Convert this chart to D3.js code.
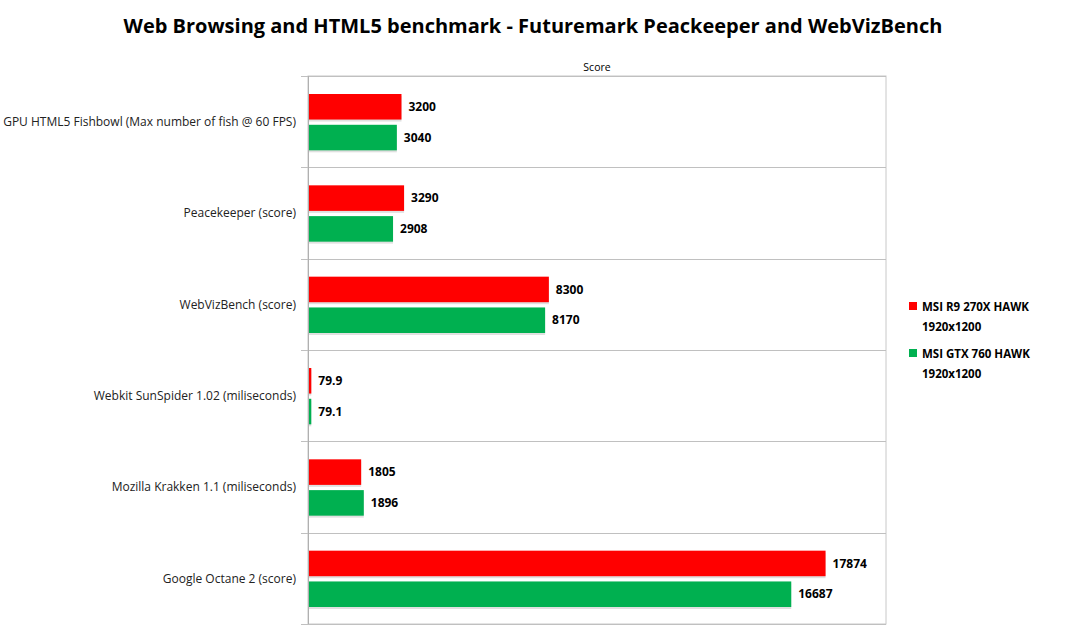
<!DOCTYPE html>
<html>
<head>
<meta charset="utf-8">
<script src="https://cdn.jsdelivr.net/npm/d3@7"></script>
<style>
  body { margin: 0; background: #fff; }
  svg { display: block; }
</style>
</head>
<body>
<div id="chart"></div>
<script>
const categories = [
    'GPU HTML5 Fishbowl (Max number of fish @ 60 FPS)',
    'Peacekeeper (score)',
    'WebVizBench (score)',
    'Webkit SunSpider 1.02 (miliseconds)',
    'Mozilla Krakken 1.1 (miliseconds)',
    'Google Octane 2 (score)'
];
const seriesNames = ['MSI R9 270X HAWK', 'MSI GTX 760 HAWK'];
const seriesSub = ['1920x1200', '1920x1200'];
const seriesColors = ['#ff0000', '#00b050'];
const r9Values = [3200, 3290, 8300, 79.9, 1805, 17874];
const gtxValues = [3040, 2908, 8170, 79.1, 1896, 16687];
const r9Labels = ['3200', '3290', '8300', '79.9', '1805', '17874'];
const gtxLabels = ['3040', '2908', '8170', '79.1', '1896', '16687'];
const xDomain = [0, 20000];

const width = 1066, height = 639;
const plot = {left: 308, right: 886, top: 76, bottom: 624};

const svg = d3.select('#chart').append('svg')
    .attr('width', width)
    .attr('height', height);

// Title
svg.append('text')
    .attr('x', 533)
    .attr('y', 33)
    .attr('text-anchor', 'middle')
    .style('font-family', '"Open Sans", sans-serif')
    .style('font-weight', 'bold')
    .style('font-size', '20px')
    .attr('fill', '#000')
    .text('Web Browsing and HTML5 benchmark - Futuremark Peackeeper and WebVizBench');

// Axis title
svg.append('text')
    .attr('x', (plot.left + plot.right) / 2)
    .attr('y', 71)
    .attr('text-anchor', 'middle')
    .style('font-family', '"Open Sans", sans-serif')
    .style('font-size', '10.5px')
    .attr('fill', '#000')
    .text('Score');

const x = d3.scaleLinear()
    .domain(xDomain)
    .range([plot.left, plot.right]);

const y = d3.scaleBand()
    .domain(categories)
    .range([plot.top, plot.bottom]);

const inner = d3.scaleBand()
    .domain([0, 1])
    .range([18, y.bandwidth() - 17])
    .paddingInner(0.17);

// Plot border and category gridlines
svg.append('rect')
    .attr('x', plot.left)
    .attr('y', plot.top)
    .attr('width', plot.right - plot.left)
    .attr('height', plot.bottom - plot.top)
    .attr('fill', 'none')
    .attr('stroke', '#c8c8c8');

const gridYs = categories.map(c => y(c)).concat([plot.bottom]);
svg.append('g')
    .selectAll('line')
    .data(gridYs)
    .join('line')
    .attr('x1', plot.left - 7)
    .attr('x2', plot.right)
    .attr('y1', d => Math.round(d) + 0.5)
    .attr('y2', d => Math.round(d) + 0.5)
    .attr('stroke', '#c0c0c0');

svg.append('line')
    .attr('x1', plot.left + 0.5)
    .attr('x2', plot.left + 0.5)
    .attr('y1', plot.top)
    .attr('y2', plot.bottom)
    .attr('stroke', '#b0b0b0');

// Category labels
svg.append('g')
    .selectAll('text')
    .data(categories)
    .join('text')
    .attr('x', 296)
    .attr('y', d => y(d) + y.bandwidth() / 2)
    .attr('dy', '0.35em')
    .attr('text-anchor', 'end')
    .style('font-family', '"Open Sans", sans-serif')
    .style('font-size', '12px')
    .attr('fill', '#222')
    .text(d => d);

// Bars
const rows = [];
categories.forEach((c, i) => {
    rows.push({cat: c, s: 0, v: r9Values[i], label: r9Labels[i]});
    rows.push({cat: c, s: 1, v: gtxValues[i], label: gtxLabels[i]});
});

const bars = svg.append('g');
// soft shadow
bars.selectAll('rect.shadow')
    .data(rows)
    .join('rect')
    .attr('class', 'shadow')
    .attr('x', x(0) + 1)
    .attr('y', d => y(d.cat) + inner(d.s) + 2)
    .attr('width', d => x(d.v) - x(0))
    .attr('height', inner.bandwidth())
    .attr('fill', '#000')
    .attr('opacity', 0.12);

bars.selectAll('rect.bar')
    .data(rows)
    .join('rect')
    .attr('class', 'bar')
    .attr('x', x(0) + 1)
    .attr('y', d => y(d.cat) + inner(d.s))
    .attr('width', d => x(d.v) - x(0))
    .attr('height', inner.bandwidth())
    .attr('fill', d => seriesColors[d.s]);

// Value labels
svg.append('g')
    .selectAll('text')
    .data(rows)
    .join('text')
    .attr('x', d => x(d.v) + 8)
    .attr('y', d => y(d.cat) + inner(d.s) + inner.bandwidth() / 2)
    .attr('dy', '0.35em')
    .style('font-family', '"Open Sans", sans-serif')
    .style('font-weight', 'bold')
    .style('font-size', '12px')
    .attr('fill', '#000')
    .text(d => d.label);

// Legend
const legend = svg.append('g')
    .selectAll('g')
    .data(seriesNames)
    .join('g')
    .attr('transform', (d, i) => `translate(909, ${311 + i * 47})`);

legend.append('rect')
    .attr('x', 0)
    .attr('y', -9)
    .attr('width', 8)
    .attr('height', 8)
    .attr('fill', (d, i) => seriesColors[i]);

legend.append('text')
    .attr('x', 13)
    .attr('y', 0)
    .style('font-family', '"Open Sans", sans-serif')
    .style('font-weight', 'bold')
    .style('font-size', '11.5px')
    .attr('fill', '#000')
    .text(d => d);

legend.append('text')
    .attr('x', 13)
    .attr('y', 20)
    .style('font-family', '"Open Sans", sans-serif')
    .style('font-weight', 'bold')
    .style('font-size', '11.5px')
    .attr('fill', '#000')
    .text((d, i) => seriesSub[i]);
</script>
</body>
</html>
